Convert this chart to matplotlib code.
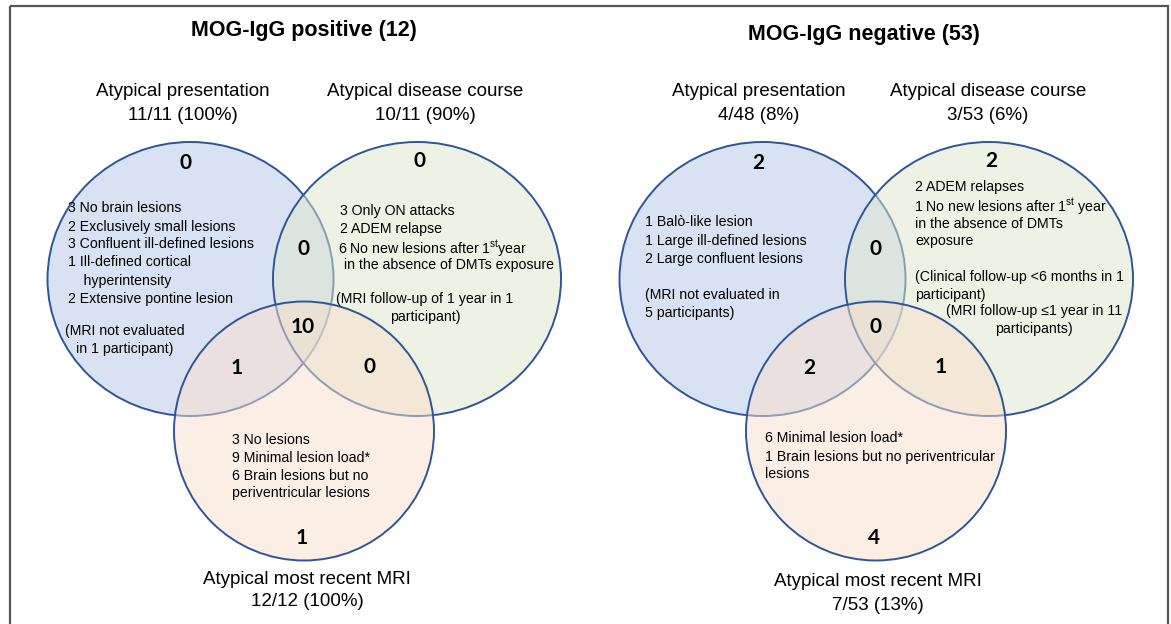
"""
Venn diagrams of atypical features in MOG-IgG positive / negative patients.
Output: out.png
"""

import matplotlib
matplotlib.use("Agg")
import matplotlib.pyplot as plt
from matplotlib.patches import Ellipse, Rectangle

# ---------------------------------------------------------------------------
# Data
# ---------------------------------------------------------------------------
SET_NAMES = ["Atypical presentation", "Atypical disease course", "Atypical most recent MRI"]

POS_TITLE = "MOG-IgG positive (12)"
POS_FRACTIONS = ["11/11 (100%)", "10/11 (90%)", "12/12 (100%)"]
# region order: A only, B only, C only, A&B, A&C, B&C, A&B&C
POS_COUNTS = [0, 0, 1, 0, 1, 0, 10]

NEG_TITLE = "MOG-IgG negative (53)"
NEG_FRACTIONS = ["4/48 (8%)", "3/53 (6%)", "7/53 (13%)"]
NEG_COUNTS = [2, 2, 4, 0, 2, 1, 0]

POS_NOTES_A = ["3 No brain lesions", "2 Exclusively small lesions",
               "3 Confluent ill-defined lesions", "1 Ill-defined cortical",
               "    hyperintensity", "2 Extensive pontine lesion"]
POS_FOOT_A = ["(MRI not evaluated", "in 1 participant)"]
POS_NOTES_B = ["3 Only ON attacks", "2 ADEM relapse",
               r"6 No new lesions after 1$^{\mathrm{st}}$year",
               " in the absence of DMTs exposure"]
POS_FOOT_B = ["(MRI follow-up of 1 year in 1", "participant)"]
POS_NOTES_C = ["3 No lesions", "9 Minimal lesion load*",
               "6 Brain lesions but no", "periventricular lesions"]

NEG_NOTES_A = ["1 Balò-like lesion", "1 Large ill-defined lesions",
               "2 Large confluent lesions", "",
               "(MRI not evaluated in", "5 participants)"]
NEG_NOTES_B = ["2 ADEM relapses", r"1 No new lesions after 1$^{\mathrm{st}}$ year",
               "in the absence of DMTs", "exposure", "",
               "(Clinical follow-up <6 months in 1", "participant)"]
NEG_FOOT_B = ["(MRI follow-up ≤1 year in 11", "participants)"]
NEG_NOTES_C = ["6 Minimal lesion load*", "1 Brain lesions but no periventricular",
               "lesions"]

# ---------------------------------------------------------------------------
# Style
# ---------------------------------------------------------------------------
EDGE = "#2f5597"
FILL_A = (181 / 255, 199 / 255, 231 / 255, 0.5)
FILL_B = (221 / 255, 231 / 255, 203 / 255, 0.5)
FILL_C = (249 / 255, 223 / 255, 205 / 255, 0.5)
FONT = ["Liberation Sans", "DejaVu Sans"]
COUNT_FONT = ["Lato", "DejaVu Sans"]
NOTE_SIZE = 10.2
LINE_STEP = 18  # pixels between note lines

plt.rcParams["font.family"] = FONT
plt.rcParams["mathtext.fontset"] = "custom"
plt.rcParams["mathtext.rm"] = "Liberation Sans"


def write_lines(ax, x, y, lines, ha="left"):
    # one text per line so the spacing stays even with superscripts
    for i, line in enumerate(lines):
        if not line:
            continue
        shift = -1.5 if "$" in line else 0  # mathtext adds a little lead-in
        ax.text(x + shift, y + i * LINE_STEP, line, ha=ha, va="center_baseline",
                fontsize=NOTE_SIZE, zorder=10)


def draw_panel(ax, dx, title, title_y, fractions, counts,
               notes_a, notes_b, notes_c, foot_a, foot_b, layout):
    cx = [190.5 + dx, 417 + dx, 304 + dx]
    cy = [279, 279, 431]
    rx = [143, 144, 130]
    ry = [137, 137, 129.5]
    for i, fc in enumerate([FILL_A, FILL_B, FILL_C]):
        ax.add_patch(Ellipse((cx[i], cy[i]), 2 * rx[i], 2 * ry[i],
                             facecolor=fc, edgecolor=EDGE, linewidth=1.4,
                             zorder=2 + i))

    ax.text(layout["title_x"], title_y, title, ha="center", va="center_baseline",
            fontsize=15.5, fontweight="bold", zorder=10)

    # set labels
    for (x, y), name, frac in zip(layout["set_xy"], SET_NAMES, fractions):
        ax.text(x, y, name, ha="center", va="center_baseline", fontsize=13.5, zorder=10)
        ax.text(x, y + 23, frac, ha="center", va="center_baseline", fontsize=13.5,
                zorder=10)

    # region counts
    for (x, y), n in zip(layout["count_xy"], counts):
        ax.text(x + dx, y, str(n), ha="center", va="center", fontsize=15,
                fontweight="bold", family=COUNT_FONT, zorder=10)

    # notes
    for key, lines in [("a", notes_a), ("b", notes_b), ("c", notes_c)]:
        x, y = layout["notes_" + key]
        write_lines(ax, x, y, lines)
    for key, lines in [("a", foot_a), ("b", foot_b)]:
        if lines is None:
            continue
        x, y = layout["foot_" + key]
        write_lines(ax, x, y, lines, ha="center")


def main() -> None:
    fig = plt.figure(figsize=(11.71, 6.24), dpi=100)
    ax = fig.add_axes([0, 0, 1, 1])
    ax.set_xlim(0, 1171)
    ax.set_ylim(624, 0)
    ax.axis("off")

    count_xy = [(186, 163), (419, 161), (302, 538), (303, 249),
                (237, 368), (369, 367), (303, 327)]

    pos_layout = {
        "title_x": 304,
        "set_xy": [(183, 90), (425, 90), (307, 577)],
        "count_xy": count_xy,
        "notes_a": (68, 207), "notes_b": (340, 210), "notes_c": (232, 438),
        "foot_a": (125, 330), "foot_b": (425, 297),
    }
    draw_panel(ax, 0, POS_TITLE, 28, POS_FRACTIONS, POS_COUNTS,
               POS_NOTES_A, POS_NOTES_B, POS_NOTES_C, POS_FOOT_A, POS_FOOT_B,
               pos_layout)

    neg_layout = {
        "title_x": 864,
        "set_xy": [(759, 90), (988, 90), (878, 580)],
        "count_xy": count_xy,
        "notes_a": (645, 221), "notes_b": (915, 186), "notes_c": (765, 437),
        "foot_b": (1034, 309),
    }
    draw_panel(ax, 572, NEG_TITLE, 32, NEG_FRACTIONS, NEG_COUNTS,
               NEG_NOTES_A, NEG_NOTES_B, NEG_NOTES_C, None, NEG_FOOT_B,
               neg_layout)

    # outer frame (bottom edge falls outside the picture)
    ax.add_patch(Rectangle((10, 6), 1158, 640, facecolor="none",
                           edgecolor="#555555", linewidth=1.6, zorder=20))

    fig.savefig("out.png", dpi=100, facecolor="white")
    plt.close(fig)


if __name__ == "__main__":
    main()
